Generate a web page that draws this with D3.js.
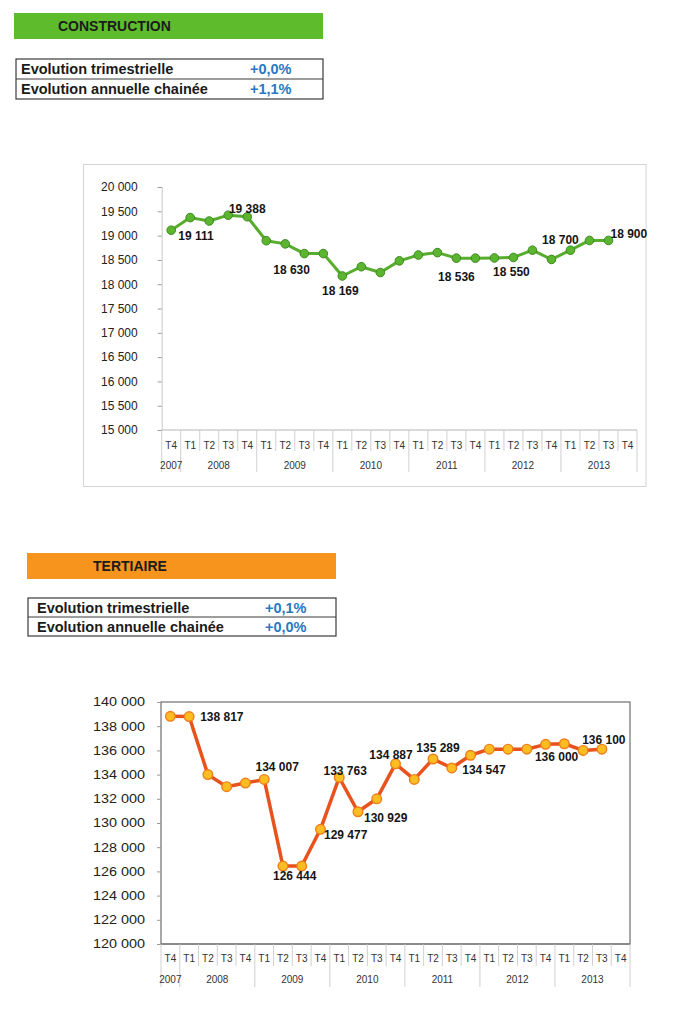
<!DOCTYPE html>
<html>
<head>
<meta charset="utf-8">
<script src="https://cdn.jsdelivr.net/npm/d3@7"></script>
<style>
  html, body { margin: 0; padding: 0; background: #ffffff; }
  svg { display: block; font-family: "Liberation Sans", Arial, Helvetica, sans-serif; }
</style>
</head>
<body>
<svg id="chart" width="694" height="1024"></svg>
<script>
// ---------------- DATA ----------------
const categories = [
  "T4 2007",
  "T1 2008", "T2 2008", "T3 2008", "T4 2008",
  "T1 2009", "T2 2009", "T3 2009", "T4 2009",
  "T1 2010", "T2 2010", "T3 2010", "T4 2010",
  "T1 2011", "T2 2011", "T3 2011", "T4 2011",
  "T1 2012", "T2 2012", "T3 2012", "T4 2012",
  "T1 2013", "T2 2013", "T3 2013", "T4 2013"
];

const constructionValues = [
  19111, 19370, 19300, 19420, 19388, 18895, 18830, 18630, 18630,
  18169, 18360, 18240, 18480, 18600, 18650, 18536, 18536, 18540,
  18550, 18700, 18510, 18700, 18900, 18900
];
const constructionTicks = [15000, 15500, 16000, 16500, 17000, 17500, 18000, 18500, 19000, 19500, 20000];
const constructionLabelIndex = [0, 4, 7, 9, 15, 18, 21, 23];
const constructionLabelText = ["19 111", "19 388", "18 630", "18 169", "18 536", "18 550", "18 700", "18 900"];

const tertiaireValues = [
  138817, 138800, 134000, 133000, 133300, 133600, 126444, 126444, 129477,
  133763, 130929, 132000, 134887, 133600, 135289, 134547, 135600, 136100,
  136100, 136100, 136500, 136550, 136000, 136100
];
const tertiaireTicks = [120000, 122000, 124000, 126000, 128000, 130000, 132000, 134000, 136000, 138000, 140000];
const tertiaireLabelIndex = [1, 5, 7, 8, 9, 10, 12, 14, 15, 22, 23];
const tertiaireLabelText = ["138 817", "134 007", "126 444", "129 477", "133 763", "130 929", "134 887", "135 289", "134 547", "136 000", "136 100"];

const sectionTitles = ["CONSTRUCTION", "TERTIAIRE"];
const rowLabels = ["Evolution trimestrielle", "Evolution annuelle chainée"];
const constructionRates = ["+0,0%", "+1,1%"];
const tertiaireRates = ["+0,1%", "+0,0%"];

// ---------------- LAYOUT (styles / positions) ----------------
const constructionLabelLayout = [
  {anchor: "start", dx: 7, dy: 10},
  {anchor: "middle", dx: 0, dy: -3.5},
  {anchor: "middle", dx: -12.7, dy: 20.7},
  {anchor: "middle", dx: -2, dy: 19},
  {anchor: "middle", dx: 0, dy: 23},
  {anchor: "middle", dx: -2, dy: 18.8},
  {anchor: "middle", dx: -10, dy: -6},
  {anchor: "start", dx: 2, dy: -2}
];
const tertiaireLabelLayout = [
  {anchor: "start", dx: 11, dy: 4.8},
  {anchor: "middle", dx: 13, dy: -8.4},
  {anchor: "middle", dx: -7, dy: 14},
  {anchor: "start", dx: 3.5, dy: 10},
  {anchor: "middle", dx: 6, dy: -2.2},
  {anchor: "start", dx: 6, dy: 10.3},
  {anchor: "middle", dx: -4.5, dy: -4.6},
  {anchor: "middle", dx: 5, dy: -7.4},
  {anchor: "start", dx: 10.5, dy: 6.3},
  {anchor: "end", dx: -4.8, dy: 10.6},
  {anchor: "middle", dx: 2, dy: -5}
];

const svg = d3.select("#chart");
const fmt = v => d3.format(",")(v).replace(/,/g, " ");

// ---------------- HEADERS ----------------
function header(x, y, w, h, fill, title, titleX, rates, table) {
  const g = svg.append("g");
  g.append("rect").attr("x", x).attr("y", y).attr("width", w).attr("height", h).attr("fill", fill);
  g.append("text").attr("x", titleX).attr("y", y + h / 2 + 5)
    .attr("font-size", 14).attr("font-weight", "bold").attr("fill", "#1b1b1b").text(title);

  const t = svg.append("g");
  t.append("rect").attr("x", table.x).attr("y", table.y).attr("width", table.w).attr("height", table.h * 2)
    .attr("fill", "#fff").attr("stroke", "#3a3a3a").attr("stroke-width", 1.2);
  t.append("line").attr("x1", table.x).attr("x2", table.x + table.w)
    .attr("y1", table.y + table.h).attr("y2", table.y + table.h)
    .attr("stroke", "#3a3a3a").attr("stroke-width", 1);
  rowLabels.forEach((lab, i) => {
    t.append("text").attr("x", table.textX).attr("y", table.y + table.h * i + table.h / 2 + 5)
      .attr("font-size", 14.5).attr("font-weight", "bold").attr("fill", "#1b1b1b").text(lab);
    t.append("text").attr("x", table.valX).attr("y", table.y + table.h * i + table.h / 2 + 5)
      .attr("font-size", 14.5).attr("font-weight", "bold").attr("fill", "#2a78c2").text(rates[i]);
  });
}

header(14, 13, 309, 26, "#5dbb2c", sectionTitles[0], 58,
  constructionRates, {x: 16, y: 59, w: 307, h: 20, textX: 21, valX: 250});
header(27, 553, 309, 26, "#f7941d", sectionTitles[1], 93,
  tertiaireRates, {x: 28, y: 598, w: 308, h: 19, textX: 37, valX: 265});

// ---------------- CHART FUNCTION ----------------
function drawChart(opt) {
  const g = svg.append("g");
  const x = d3.scaleBand().domain(categories).range([opt.left, opt.right]).paddingInner(0).paddingOuter(0);
  const y = d3.scaleLinear().domain(opt.domain).range([opt.bottom, opt.top]);

  if (opt.frame) {
    g.append("rect").attr("x", opt.frame.x).attr("y", opt.frame.y)
      .attr("width", opt.frame.w).attr("height", opt.frame.h)
      .attr("fill", "none").attr("stroke", "#d4d4d4").attr("stroke-width", 1);
  }
  if (opt.box) {
    g.append("rect").attr("x", opt.left).attr("y", opt.top)
      .attr("width", opt.right - opt.left).attr("height", opt.bottom - opt.top)
      .attr("fill", "none").attr("stroke", "#6e6e6e").attr("stroke-width", 1.2);
  }

  // Y axis
  const yAxis = d3.axisLeft(y).tickValues(opt.ticks).tickFormat(fmt).tickSize(4).tickPadding(opt.tickPad);
  const ya = g.append("g").attr("transform", `translate(${opt.left},0)`).call(yAxis);
  ya.select(".domain").attr("stroke", opt.box ? "none" : "#c8c8c8");
  ya.selectAll(".tick line").attr("stroke", "#9a9a9a");
  ya.selectAll(".tick text").attr("font-size", 12).attr("fill", "#222").attr("font-family", null);
  if (opt.tickStretch) {
    ya.selectAll(".tick text").each(function() {
      const t = d3.select(this);
      const xx = +t.attr("x");
      t.attr("transform", `translate(${xx},0) scale(${opt.tickStretch},1)`).attr("x", 0);
    });
  }

  // X category table
  const xa = g.append("g");
  xa.append("line").attr("x1", opt.left).attr("x2", opt.right)
    .attr("y1", opt.bottom).attr("y2", opt.bottom).attr("stroke", opt.box ? "#6e6e6e" : "#b5b5b5");
  categories.forEach((c, i) => {
    const q = c.split(" ")[0];
    const yr = c.split(" ")[1];
    const nextYr = i < categories.length - 1 ? categories[i + 1].split(" ")[1] : null;
    xa.append("text").attr("x", x(c) + x.bandwidth() / 2).attr("y", opt.bottom + opt.qOff)
      .attr("text-anchor", "middle").attr("font-size", 10).attr("fill", "#333").text(q);
    const xr = x(c) + x.bandwidth();
    const isYearEnd = nextYr !== yr;
    xa.append("line").attr("x1", xr).attr("x2", xr)
      .attr("y1", opt.bottom).attr("y2", opt.bottom + (isYearEnd ? opt.yearSepLen : opt.qSepLen))
      .attr("stroke", "#c4c4c4").attr("stroke-width", 0.8);
  });
  xa.append("line").attr("x1", opt.left).attr("x2", opt.left)
    .attr("y1", opt.bottom).attr("y2", opt.bottom + opt.yearSepLen)
    .attr("stroke", "#c4c4c4").attr("stroke-width", 0.8);
  const years = Array.from(new Set(categories.map(c => c.split(" ")[1])));
  years.forEach(yr => {
    const cats = categories.filter(c => c.split(" ")[1] === yr);
    const x0 = x(cats[0]);
    const x1 = x(cats[cats.length - 1]) + x.bandwidth();
    xa.append("text").attr("x", (x0 + x1) / 2).attr("y", opt.bottom + opt.yOff)
      .attr("text-anchor", "middle").attr("font-size", 10).attr("fill", "#333").text(yr);
  });

  // Line
  const data = opt.values.map((v, i) => ({c: categories[i], v}));
  const line = d3.line().x(d => x(d.c) + x.bandwidth() / 2).y(d => y(d.v));
  g.append("path").datum(data).attr("d", line).attr("fill", "none")
    .attr("stroke", opt.lineColor).attr("stroke-width", opt.lineWidth).attr("stroke-linejoin", "round");
  g.selectAll(null).data(data).enter().append("circle")
    .attr("cx", d => x(d.c) + x.bandwidth() / 2).attr("cy", d => y(d.v)).attr("r", opt.r)
    .attr("fill", opt.markerFill).attr("stroke", opt.markerStroke).attr("stroke-width", opt.markerStrokeWidth);

  // Data labels
  opt.labelIndex.forEach((idx, k) => {
    const L = opt.labelLayout[k];
    g.append("text")
      .attr("x", x(categories[idx]) + x.bandwidth() / 2 + L.dx)
      .attr("y", y(opt.values[idx]) + L.dy)
      .attr("text-anchor", L.anchor).attr("font-size", 12).attr("font-weight", "bold")
      .attr("fill", "#151515").text(opt.labelText[k]);
  });
}

drawChart({
  left: 161.7, right: 637, top: 187, bottom: 430,
  domain: [15000, 20000], ticks: constructionTicks, tickPad: 20,
  frame: {x: 83.5, y: 164.5, w: 562.5, h: 322},
  box: false,
  qOff: 19, yOff: 39, qSepLen: 21, yearSepLen: 42,
  values: constructionValues,
  lineColor: "#58ad2e", lineWidth: 3, r: 4.3,
  markerFill: "#5cb52f", markerStroke: "#3e8a22", markerStrokeWidth: 1,
  labelIndex: constructionLabelIndex, labelText: constructionLabelText, labelLayout: constructionLabelLayout
});

drawChart({
  left: 161, right: 630, top: 702, bottom: 944,
  domain: [120000, 140000], ticks: tertiaireTicks, tickPad: 12, tickStretch: 1.2,
  frame: null, box: true,
  qOff: 18, yOff: 39, qSepLen: 22, yearSepLen: 43,
  values: tertiaireValues,
  lineColor: "#e8521c", lineWidth: 3.5, r: 4.8,
  markerFill: "#fbbd22", markerStroke: "#ee7f1a", markerStrokeWidth: 1.4,
  labelIndex: tertiaireLabelIndex, labelText: tertiaireLabelText, labelLayout: tertiaireLabelLayout
});
</script>
</body>
</html>
